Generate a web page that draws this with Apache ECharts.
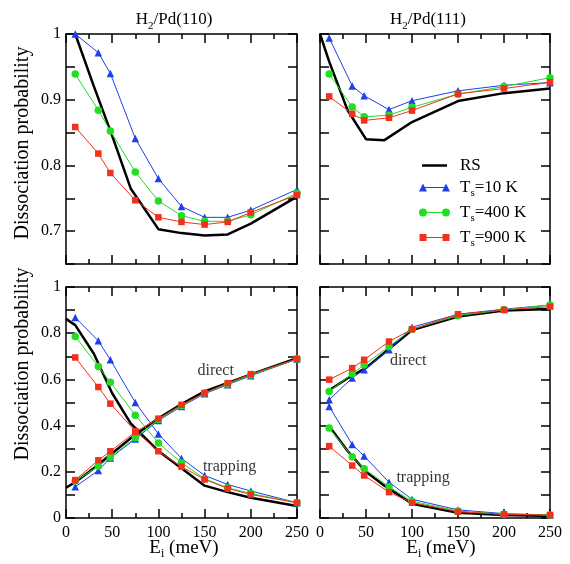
<!DOCTYPE html>
<html>
<head>
<meta charset="utf-8">
<script src="https://cdn.jsdelivr.net/npm/echarts@6/dist/echarts.min.js"></script>
<style>
    html, body { margin: 0; padding: 0; background: #fff; }
    #chart { width: 570px; height: 564px; }
</style>
</head>
<body>
<div id="chart"></div>
<script>
// incidence energies (meV)
let e110 = [10, 35, 48, 75, 100, 125, 150, 175, 200, 250];
let e111 = [10, 35, 48, 75, 100, 150, 200, 250];
let eRS110 = [10, 30, 50, 70, 100, 125, 150, 175, 200, 250];
let eRS111 = [0, 10, 30, 50, 70, 100, 150, 200, 250];
let eRSsplit110 = [0, 10, 30, 50, 70, 100, 125, 150, 175, 200, 250];
let eRSsplit111 = [10, 30, 50, 70, 100, 150, 200, 250];

// top row: total dissociation probability
let rs110 = [1.0, 0.921, 0.845, 0.765, 0.703, 0.697, 0.6935, 0.695, 0.7115, 0.7525];
let ts10_110 = [1.0, 0.9715, 0.94, 0.841, 0.78, 0.7375, 0.721, 0.721, 0.732, 0.7635];
let ts400_110 = [0.939, 0.884, 0.8525, 0.79, 0.746, 0.7235, 0.715, 0.715, 0.725, 0.7575];
let ts900_110 = [0.8585, 0.818, 0.7885, 0.747, 0.721, 0.714, 0.71, 0.714, 0.7285, 0.755];

let rs111 = [1.0, 0.958, 0.884, 0.84, 0.8385, 0.866, 0.898, 0.91, 0.917];
let ts10_111 = [0.994, 0.921, 0.906, 0.885, 0.8985, 0.9135, 0.922, 0.926];
let ts400_111 = [0.939, 0.889, 0.874, 0.8765, 0.8885, 0.9085, 0.92, 0.9335];
let ts900_111 = [0.905, 0.8785, 0.8685, 0.8725, 0.8835, 0.909, 0.917, 0.9265];

// bottom row: direct and trapping contributions
let rsDir110 = [0.131, 0.155, 0.215, 0.28, 0.345, 0.432, 0.493, 0.548, 0.585, 0.622, 0.692];
let dir10_110 = [0.135, 0.206, 0.26, 0.342, 0.422, 0.483, 0.538, 0.577, 0.616, 0.688];
let dir400_110 = [0.16, 0.224, 0.263, 0.347, 0.426, 0.486, 0.541, 0.58, 0.619, 0.688];
let dir900_110 = [0.164, 0.25, 0.289, 0.373, 0.43, 0.49, 0.541, 0.584, 0.623, 0.689];
let rsTrap110 = [0.862, 0.835, 0.712, 0.54, 0.41, 0.29, 0.215, 0.14, 0.112, 0.088, 0.052];
let trap10_110 = [0.868, 0.767, 0.685, 0.5, 0.364, 0.258, 0.184, 0.145, 0.117, 0.066];
let trap400_110 = [0.786, 0.656, 0.588, 0.445, 0.325, 0.239, 0.17, 0.131, 0.106, 0.066];
let trap900_110 = [0.695, 0.567, 0.495, 0.376, 0.289, 0.222, 0.167, 0.128, 0.102, 0.066];

let rsDir111 = [0.553, 0.605, 0.65, 0.715, 0.814, 0.872, 0.898, 0.905];
let dir10_111 = [0.512, 0.606, 0.642, 0.728, 0.826, 0.882, 0.904, 0.922];
let dir400_111 = [0.548, 0.624, 0.663, 0.742, 0.817, 0.876, 0.901, 0.922];
let dir900_111 = [0.599, 0.649, 0.685, 0.764, 0.817, 0.882, 0.901, 0.915];
let rsTrap111 = [0.397, 0.29, 0.2, 0.14, 0.062, 0.023, 0.013, 0.009];
let trap10_111 = [0.483, 0.318, 0.268, 0.155, 0.081, 0.035, 0.019, 0.013];
let trap400_111 = [0.39, 0.265, 0.213, 0.135, 0.073, 0.03, 0.016, 0.013];
let trap900_111 = [0.311, 0.227, 0.184, 0.112, 0.066, 0.027, 0.016, 0.013];

// curve labels in data coordinates
let notes110 = [[162, 0.638, "direct"], [177, 0.223, "trapping"]];
let notes111 = [[96, 0.681, "direct"], [112, 0.175, "trapping"]];

let serif = '"Liberation Serif", "DejaVu Serif", serif';
let black = "#000";

let styles = {
    "RS": { color: "#000000", symbol: "none", size: 0, width: 2.5 },
    "10 K": { color: "#1f3fe8", symbol: "triangle", size: 7.5, width: 1 },
    "400 K": { color: "#22dd22", symbol: "circle", size: 7.5, width: 1 },
    "900 K": { color: "#f2301c", symbol: "rect", size: 6.5, width: 1 }
};

let line = (g, name, xs, ys) => {
    let s = styles[name];
    return {
        type: "line", name: name, xAxisIndex: 2 * g, yAxisIndex: 2 * g,
        data: xs.map((x, i) => [x, ys[i]]),
        symbol: s.symbol, symbolSize: s.size, showSymbol: s.symbol !== "none",
        color: s.color,
        lineStyle: { width: s.width, color: s.color },
        itemStyle: { color: s.color, borderWidth: 0 },
        emphasis: { disabled: true }
    };
};

let notes = (g, list) => ({
    type: "scatter", xAxisIndex: 2 * g, yAxisIndex: 2 * g, silent: true, z: 10,
    symbolSize: 1, itemStyle: { color: "rgba(0,0,0,0)" },
    data: list.map(n => ({ value: [n[0], n[1]], label: { formatter: n[2] } })),
    label: { show: true, position: "inside", fontFamily: serif, fontSize: 16, color: black }
});

let tickStyle = { color: black, width: 1.5 };

let xAxis = (g, pos, labels) => ({
    type: "value", gridIndex: g, position: pos, min: 0, max: 250, interval: 50,
    axisLine: { show: true, onZero: false, lineStyle: tickStyle },
    axisTick: { show: true, inside: true, length: 9, lineStyle: tickStyle },
    minorTick: { show: true, splitNumber: 2, length: 5, lineStyle: tickStyle },
    axisLabel: { show: labels, color: black, fontFamily: serif, fontSize: 16, margin: 7 },
    splitLine: { show: false }
});

let yAxis = (g, pos, labels, top) => ({
    type: "value", gridIndex: g, position: pos,
    min: top ? 0.65 : 0, max: 1, interval: top ? 0.05 : 0.1,
    axisLine: { show: true, onZero: false, lineStyle: tickStyle },
    axisTick: { show: true, inside: true, length: 9, lineStyle: tickStyle },
    axisLabel: {
        show: labels, color: black, fontFamily: serif, fontSize: 16, margin: 5,
        showMinLabel: true, showMaxLabel: true,
        formatter: v => {
            let k = Math.round(v * 100);
            let every = top ? 10 : 20;
            return k % every === 0 ? String(k / 100) : "";
        }
    },
    splitLine: { show: false }
});

let grids = [
    { left: 66, top: 34, width: 231, height: 230 },
    { left: 320, top: 34, width: 230, height: 230 },
    { left: 66, top: 287, width: 231, height: 231 },
    { left: 320, top: 287, width: 230, height: 231 }
];

let xAxes = [];
let yAxes = [];
grids.forEach((gr, g) => {
    xAxes.push(xAxis(g, "bottom", g >= 2), xAxis(g, "top", false));
    yAxes.push(yAxis(g, "left", g % 2 === 0, g < 2), yAxis(g, "right", false, g < 2));
});

let series = [
    line(0, "RS", eRS110, rs110),
    line(0, "10 K", e110, ts10_110),
    line(0, "400 K", e110, ts400_110),
    line(0, "900 K", e110, ts900_110),

    line(1, "RS", eRS111, rs111),
    line(1, "10 K", e111, ts10_111),
    line(1, "400 K", e111, ts400_111),
    line(1, "900 K", e111, ts900_111),

    line(2, "RS", eRSsplit110, rsDir110),
    line(2, "RS", eRSsplit110, rsTrap110),
    line(2, "10 K", e110, dir10_110),
    line(2, "10 K", e110, trap10_110),
    line(2, "400 K", e110, dir400_110),
    line(2, "400 K", e110, trap400_110),
    line(2, "900 K", e110, dir900_110),
    line(2, "900 K", e110, trap900_110),

    line(3, "RS", eRSsplit111, rsDir111),
    line(3, "RS", eRSsplit111, rsTrap111),
    line(3, "10 K", e111, dir10_111),
    line(3, "10 K", e111, trap10_111),
    line(3, "400 K", e111, dir400_111),
    line(3, "400 K", e111, trap400_111),
    line(3, "900 K", e111, dir900_111),
    line(3, "900 K", e111, trap900_111),

    notes(2, notes110),
    notes(3, notes111)
];

// legend icons: line with a marker at each end
let bar = "M4,3.5L27,3.5L27,4.5L4,4.5Z";
let icons = {
    "RS": "path://M3,2.8L28,2.8L28,5.2L3,5.2Z M0,0L0.01,0Z M31,8L30.99,8Z",
    "10 K": "path://M0,8L4,0L8,8Z " + bar + " M23,8L27,0L31,8Z",
    "400 K": "path://M0,4A4,4,0,1,1,8,4A4,4,0,1,1,0,4Z " + bar + " M23,4A4,4,0,1,1,31,4A4,4,0,1,1,23,4Z",
    "900 K": "path://M0.5,0.5L7.5,0.5L7.5,7.5L0.5,7.5Z " + bar + " M23.5,0.5L30.5,0.5L30.5,7.5L23.5,7.5Z M0,0L0.01,0Z M31,8L30.99,8Z"
};

let sub = { fontFamily: serif, fontSize: 11, color: black, lineHeight: 20, padding: [12, 0, 0, 0] };

let option = {
    animation: false,
    backgroundColor: "#fff",
    grid: grids,
    xAxis: xAxes,
    yAxis: yAxes,
    series: series,
    legend: {
        orient: "vertical", left: 414, top: 152, itemWidth: 31, itemHeight: 8, itemGap: 2,
        data: Object.keys(icons).map(n => ({ name: n, icon: icons[n] })),
        itemStyle: { borderWidth: 0 },
        formatter: n => n === "RS" ? "{t|RS}" : "{t|T}{s|s}{t|=" + n + "}",
        textStyle: {
            padding: [0, 0, 0, 5],
            rich: {
                t: { fontFamily: serif, fontSize: 17, color: black, lineHeight: 20 },
                s: sub
            }
        }
    },
    graphic: [
        {
            type: "text", x: 174, y: 20, silent: true,
            style: {
                text: "{h|H}{s|2}{h|/Pd(110)}", align: "center", verticalAlign: "middle",
                rich: { h: { fontFamily: serif, fontSize: 17, color: black, lineHeight: 20 }, s: sub }
            }
        },
        {
            type: "text", x: 428, y: 20, silent: true,
            style: {
                text: "{h|H}{s|2}{h|/Pd(111)}", align: "center", verticalAlign: "middle",
                rich: { h: { fontFamily: serif, fontSize: 17, color: black, lineHeight: 20 }, s: sub }
            }
        },
        {
            type: "text", x: 23, y: 143, rotation: Math.PI / 2, silent: true,
            style: {
                text: "Dissociation probability", align: "center", verticalAlign: "middle",
                fontFamily: serif, fontSize: 20, fill: black
            }
        },
        {
            type: "text", x: 23, y: 364, rotation: Math.PI / 2, silent: true,
            style: {
                text: "Dissociation probability", align: "center", verticalAlign: "middle",
                fontFamily: serif, fontSize: 20, fill: black
            }
        },
        {
            type: "text", x: 184, y: 548, silent: true,
            style: {
                text: "{e|E}{s|i}{e| (meV)}", align: "center", verticalAlign: "middle",
                rich: {
                    e: { fontFamily: serif, fontSize: 19, color: black, lineHeight: 22 },
                    s: { fontFamily: serif, fontSize: 12, color: black, lineHeight: 22, padding: [12, 0, 0, 0] }
                }
            }
        },
        {
            type: "text", x: 441, y: 548, silent: true,
            style: {
                text: "{e|E}{s|i}{e| (meV)}", align: "center", verticalAlign: "middle",
                rich: {
                    e: { fontFamily: serif, fontSize: 19, color: black, lineHeight: 22 },
                    s: { fontFamily: serif, fontSize: 12, color: black, lineHeight: 22, padding: [12, 0, 0, 0] }
                }
            }
        }
    ]
};

let myChart = echarts.init(document.getElementById("chart"));
myChart.setOption(option);
</script>
</body>
</html>
